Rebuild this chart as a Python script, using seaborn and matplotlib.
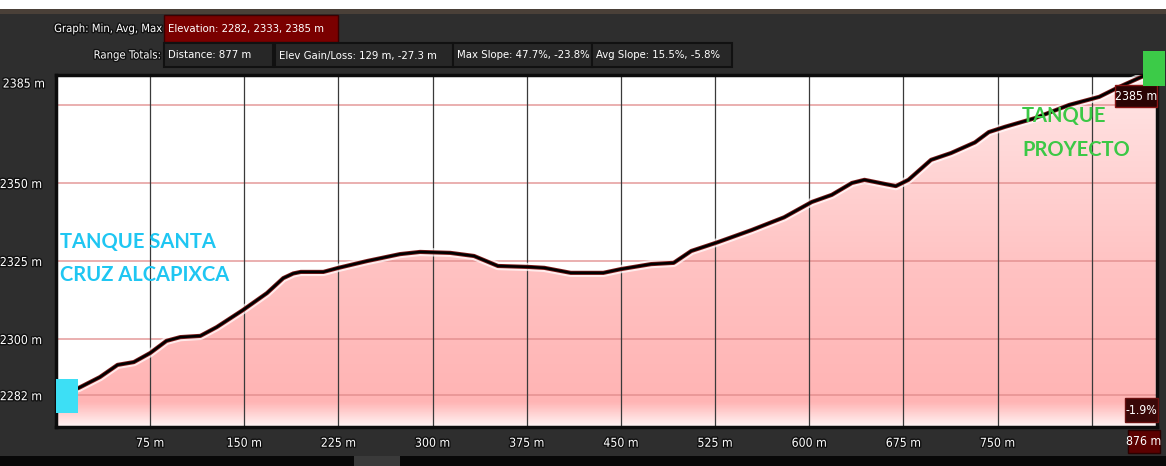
import numpy as np
import matplotlib
matplotlib.use("Agg")
import matplotlib.pyplot as plt
import matplotlib.patheffects as pe
from matplotlib.colors import LinearSegmentedColormap
from matplotlib.patches import Rectangle
import seaborn as sns

# perfil de elevacion (distancia en m, elevacion en m)
distancia = [0, 18, 35, 49, 62, 75, 88, 99, 115, 128, 149, 168, 181, 189, 195, 213, 225,
             248, 274, 290, 314, 333, 352, 376, 389, 410, 436, 450, 474, 492, 506, 527,
             554, 580, 602, 618, 634, 644, 660, 669, 679, 697, 713, 732, 743, 756, 780,
             807, 831, 847, 868, 876]
elevacion = [2282, 2284.3, 2287.8, 2291.7, 2292.6, 2295.5, 2299.4, 2300.6, 2301, 2303.8,
             2309.3, 2314.7, 2319.5, 2321, 2321.5, 2321.5, 2322.8, 2325, 2327.2, 2327.9,
             2327.6, 2326.6, 2323.4, 2323.1, 2322.8, 2321.2, 2321.2, 2322.4, 2324, 2324.4,
             2328.2, 2331, 2334.9, 2339, 2343.9, 2346.2, 2350, 2351, 2349.7, 2349, 2351,
             2357.4, 2359.6, 2363, 2366.3, 2368, 2370.8, 2375, 2377.6, 2380.8, 2384.6, 2385]

# resumen del perfil
elev_min, elev_avg, elev_max = 2282, 2333, 2385
dist_total = 877
gain, loss = 129, -27.3
max_slope = (47.7, -23.8)
avg_slope = (15.5, -5.8)
end_slope = -1.9
end_dist = 876

xticks = [75, 150, 225, 300, 375, 450, 525, 600, 675, 750]
xgrid = [75, 150, 225, 300, 375, 450, 525, 600, 675, 750, 825]
yticks = [2282, 2300, 2325, 2350]
ygrid = [2282, 2300, 2325, 2350, 2375]
y_lo, y_hi = 2271.8, 2384.6

W, H = 1166, 466
sns.set_theme(style="white")
plt.rcParams["font.family"] = ["DejaVu Sans"]
plt.rcParams["font.stretch"] = "condensed"
FS = 8.1

fig = plt.figure(figsize=(W / 100, H / 100), dpi=100)
fig.patch.set_facecolor("#2e2e2e")

def fx(px):
    return px / W

def fy(py):
    return 1 - py / H

def caja(x0, y0, x1, y1, fc, ec, lw=1.0, z=2):
    fig.patches.append(Rectangle((fx(x0), fy(y1)), (x1 - x0) / W, (y1 - y0) / H,
                                 transform=fig.transFigure, fc=fc, ec=ec, lw=lw, zorder=z))

# franja superior (imagen de fondo) y franja inferior
caja(0, 0, W, 9, "white", "none", 0, 0)
caja(0, 9, W, 14, "#4a4038", "none", 0, 0)
caja(0, 456, W, H, "#080808", "none", 0, 0)
caja(354, 456, 400, H, "#3a3a3a", "none", 0, 1)

ax = fig.add_axes([fx(56), fy(427), (1157 - 56) / W, (427 - 75) / H])
ax.set_facecolor("white")
ax.set_xlim(0, dist_total)
ax.set_ylim(y_lo, y_hi)

# relleno con degradado
cmap = LinearSegmentedColormap.from_list("rosa", [(0, "#fff4f4"), (0.07, "#ffb4b4"),
                                                   (0.45, "#ffc2c2"), (1, "#ffe6e6")])
grad = np.linspace(0, 1, 256).reshape(-1, 1)
im = ax.imshow(grad, extent=[0, dist_total, y_lo, y_hi], origin="lower", aspect="auto",
               cmap=cmap, zorder=1)
poly = ax.fill_between(distancia, elevacion, y_lo, facecolor="none", edgecolor="none")
im.set_clip_path(poly.get_paths()[0], transform=ax.transData)

for g in ygrid:
    ax.axhline(g, color="#e08a8a", lw=1.2, alpha=0.8, zorder=2)
for g in xgrid:
    ax.axvline(g, color="#3a3a3a", lw=0.9, zorder=2)

sns.lineplot(x=distancia, y=elevacion, ax=ax, color="black", lw=1.8, zorder=4,
             path_effects=[pe.Stroke(linewidth=6, foreground="white", alpha=0.7),
                           pe.Stroke(linewidth=3.0, foreground="#7a1a1a"), pe.Normal()])

shadow = [pe.withStroke(linewidth=2, foreground="#111111")]
ax.set_xticks(xticks)
ax.set_xticklabels([f"{v} m" for v in xticks])
ax.set_yticks(yticks)
ax.set_yticklabels([f"{v} m" for v in yticks])
ax.tick_params(length=0, colors="white", labelsize=8.8)
ax.tick_params(axis="x", pad=7)
ax.tick_params(axis="y", pad=10)
for lab in ax.get_xticklabels() + ax.get_yticklabels():
    lab.set_path_effects(shadow)
ax.grid(False)
for s in ax.spines.values():
    s.set_color("#0c0c0c")
    s.set_linewidth(2.5)

fig.text(fx(45), fy(84), f"{elev_max} m", ha="right", va="center",
         color="white", fontsize=8.8, path_effects=shadow)

# etiquetas a la derecha
caja(1115, 85, 1157, 107, "#2a0303", "#8a1515", 1.0, 6)
fig.text(fx(1136), fy(96), f"{elev_max} m", ha="center", va="center", color="white",
         fontsize=8.8, zorder=7)
caja(1125, 398, 1158, 422, "#3a0808", "#6a1010", 1.0, 6)
fig.text(fx(1141.5), fy(410), f"{end_slope}%", ha="center", va="center", color="white",
         fontsize=8.8, zorder=7)
caja(1128, 430, 1160, 453, "#5c0000", "#2a0000", 1.0, 6)
fig.text(fx(1144), fy(441.5), f"{end_dist} m", ha="center", va="center", color="white",
         fontsize=8.8, zorder=7)

# cabecera
fig.text(fx(162), fy(29), "Graph: Min, Avg, Max", ha="right", va="center", color="white",
         fontsize=FS, path_effects=shadow)
caja(164, 15, 338, 42, "#7a0000", "#3a0000", 1.0)
fig.text(fx(168), fy(29), f"Elevation: {elev_min}, {elev_avg}, {elev_max} m", ha="left",
         va="center", color="white", fontsize=FS, zorder=3)
fig.text(fx(161), fy(55.5), "Range Totals:", ha="right", va="center", color="white",
         fontsize=FS, path_effects=shadow)
hdr = [(164, 273, f"Distance: {dist_total} m"),
       (275, 453, f"Elev Gain/Loss: {gain} m, {loss} m"),
       (453, 592, f"Max Slope: {max_slope[0]}%, {max_slope[1]}%"),
       (592, 732, f"Avg Slope: {avg_slope[0]}%, {avg_slope[1]}%")]
for x0, x1, t in hdr:
    caja(x0, 43, x1, 67, "#272727", "#111111", 1.5)
    fig.text(fx(x0 + 4), fy(55.5), t, ha="left", va="center", color="white", fontsize=FS, zorder=3)

# marcadores de los tanques
caja(56, 379, 78, 413, "#3ddff5", "none", 0, 10)
caja(1143, 51, 1165, 86, "#3ccb48", "none", 0, 10)

kw = dict(ha="left", va="center", fontsize=14.5, fontweight="bold", family="Lato",
          fontstretch="normal")
fig.text(fx(60), fy(242), "TANQUE SANTA", color="#1fc6f2", **kw)
fig.text(fx(60), fy(275), "CRUZ ALCAPIXCA", color="#1fc6f2", **kw)
fig.text(fx(1022), fy(116), "TANQUE", color="#3cc846", **kw)
fig.text(fx(1022), fy(150), "PROYECTO", color="#3cc846", **kw)

fig.savefig("out.png", dpi=100, facecolor=fig.get_facecolor())
